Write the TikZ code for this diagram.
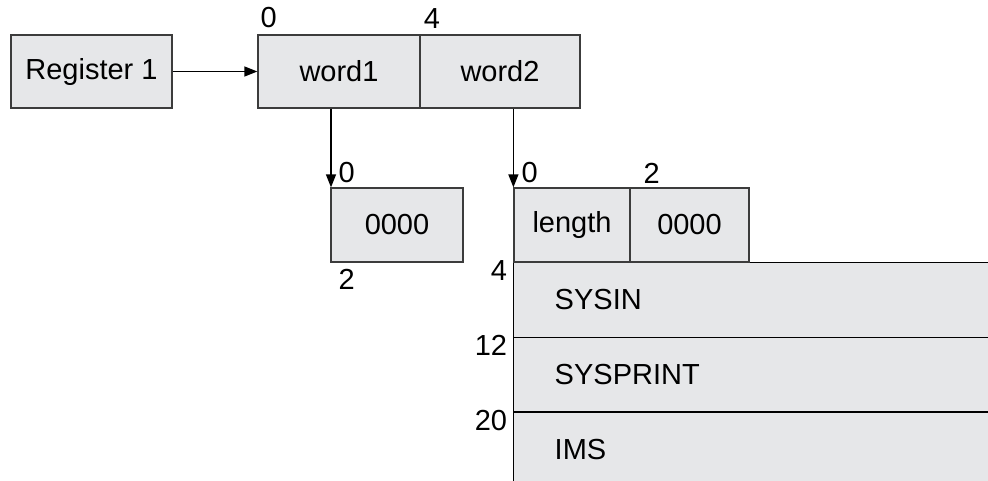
\documentclass[tikz,border=0pt]{standalone}
\usepackage{fontspec}
\setmainfont{Liberation Sans}
\usetikzlibrary{arrows.meta,positioning}
\definecolor{cellgray}{HTML}{E6E7E9}
\definecolor{edgegray}{HTML}{3C3C3C}
\begin{document}
\begin{tikzpicture}[
        cell/.style={draw=edgegray, line width=0.7pt, fill=cellgray, rectangle, inner sep=0pt, minimum height=1.46cm, font=\fontsize{16.5}{19}\selectfont},
        row/.style={fill=cellgray, rectangle, inner sep=0pt, minimum height=1.48cm, text width=8.66cm, align=left, font=\fontsize{16.5}{19}\selectfont},% area entry
        offset/.style={inner sep=0pt, font=\fontsize{16.5}{19}\selectfont},% byte offset
        pointer/.style={line width=0.7pt, -{Triangle[length=0.26cm,width=0.2cm]}},
    ]
        \useasboundingbox (0,0) rectangle (19.76,-9.6);

        \node [cell, minimum width=3.22cm] (register) at (1.83,-1.43) {Register 1};
        \node [cell, minimum width=3.24cm] (word1) at (6.78,-1.43) {word1};
        \node [cell, minimum width=3.20cm] (word2) at (10.0,-1.43) {word2};

        \node [cell, minimum width=2.64cm, minimum height=1.48cm] (zeroA) at (7.94,-4.5) {0000};
        \node [cell, minimum width=2.32cm, minimum height=1.48cm] (length) at (11.44,-4.5) {length};
        \node [cell, minimum width=2.38cm, minimum height=1.48cm] (zeroB) at (13.79,-4.5) {0000};

        % open-ended area
        \node [row, anchor=north west, minimum width=9.48cm, inner xsep=0.82cm] (sysin) at (length.south west) {SYSIN};
        \node [row, below=0pt of sysin, minimum width=9.48cm, inner xsep=0.82cm] (sysprint) {SYSPRINT};
        \node [row, below=0pt of sysprint, minimum width=9.48cm, inner xsep=0.82cm] (ims) {IMS};
        \draw [line width=0.7pt] (sysin.north west) -- (sysin.north east);
        \draw [line width=0.7pt] (sysprint.north west) -- (sysprint.north east);
        \draw [line width=0.7pt] (ims.north west) -- (ims.north east);
        \draw [line width=0.7pt] (sysin.north west) -- (ims.south west);
        \draw [draw=edgegray, line width=0.7pt] (length.north west) rectangle (zeroB.south east);
        \draw [draw=edgegray, line width=0.7pt] (length.north east) -- (length.south east);

        % pointers
        \draw [pointer] (register.east) -- (word1.west);
        \coordinate (fromA) at ([xshift=-0.16cm]word1.south);
        \draw [pointer] (fromA) -- (fromA |- zeroA.north);
        \coordinate (fromB) at (length.north west |- word2.south);
        \draw [pointer] (fromB) -- (length.north west);

        % offsets
        \node [offset, anchor=south west] (offW1) at ([xshift=0.06cm,yshift=0.12cm]word1.north west) {0};
        \node [offset, anchor=south west] (offW2) at ([xshift=0.06cm,yshift=0.12cm]word1.north east) {4};
        \node [offset, anchor=south west] (offA0) at ([xshift=0.16cm,yshift=0.08cm]zeroA.north west) {0};
        \node [offset, anchor=north west] (offA2) at ([xshift=0.16cm,yshift=-0.12cm]zeroA.south west) {2};
        \node [offset, anchor=south west] (offL0) at ([xshift=0.16cm,yshift=0.08cm]length.north west) {0};
        \node [offset, anchor=south west] (offB2) at ([xshift=0.28cm,yshift=0.08cm]zeroB.north west) {2};
        \node [offset, anchor=east] (off4) at ([xshift=-0.12cm,yshift=-0.16cm]sysin.north west) {4};
        \node [offset, anchor=east] (off12) at ([xshift=-0.12cm,yshift=-0.16cm]sysprint.north west) {12};
        \node [offset, anchor=east] (off20) at ([xshift=-0.12cm,yshift=-0.16cm]ims.north west) {20};
    \end{tikzpicture}
\end{document}
